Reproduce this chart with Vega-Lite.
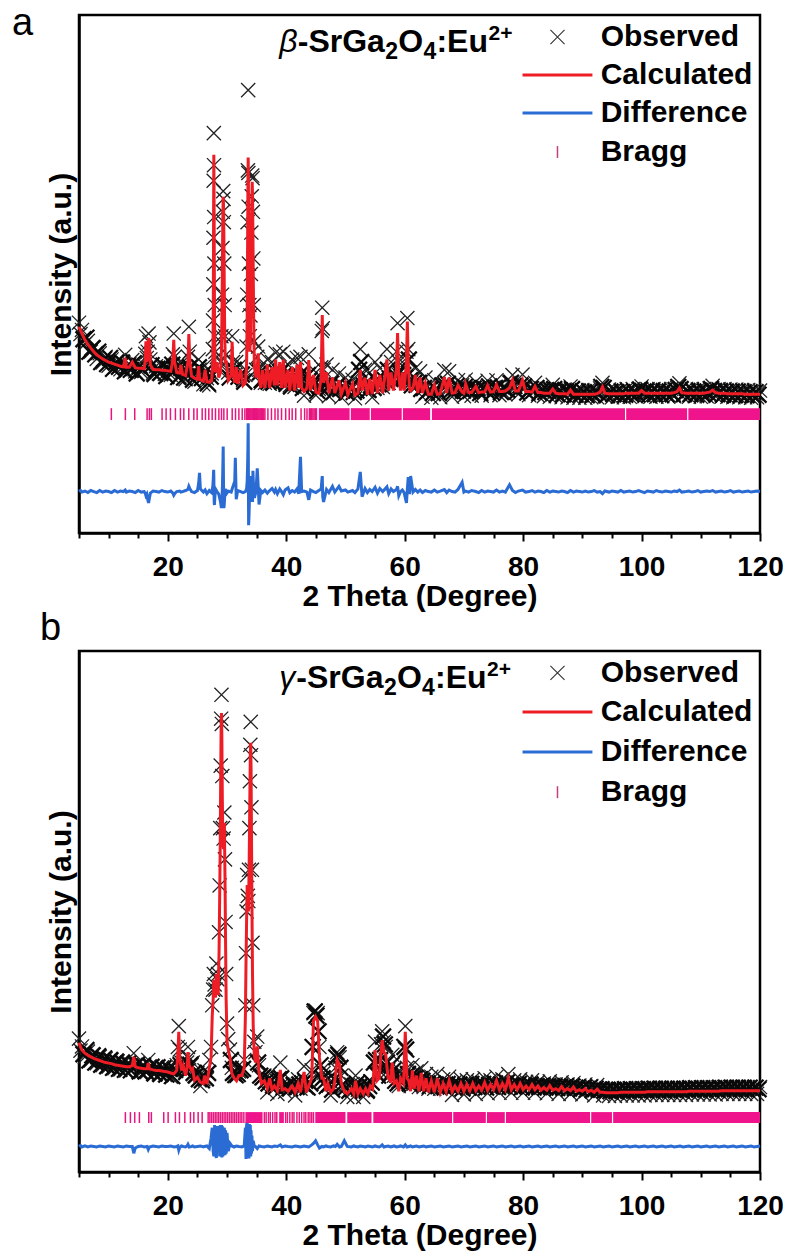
{
"$schema": "https://vega.github.io/schema/vega-lite/v6.json",
"padding": {"left": 10, "top": 3, "right": 5, "bottom": 0},
"background": "white",
"config": {
  "font": "Liberation Sans",
  "view": {"stroke": "black", "strokeWidth": 2.5},
  "axisX": {"values":[10,20,30,40,50,60,70,80,90,100,110,120],"labelExpr":"datum.value % 20 === 0 ? datum.label : ''","grid":false,"tickSize":{"condition":{"test":"datum.value % 20 === 0","value":8},"value":5},"tickWidth":2,"tickColor":"black","domainColor":"black","domainWidth":2.5,"labelFontSize":28,"labelFontWeight":"bold","labelColor":"black","labelPadding":12,"labelFlush":false,"labelOverlap":false,"titleFontSize":30,"titleFontWeight":"bold","titleColor":"black","titlePadding":0},
  "axisY": {"labels":false,"ticks":false,"grid":false,"domainColor":"black","domainWidth":2.5,"titleFontSize":30,"titleFontWeight":"bold","titleColor":"black","titlePadding":3}
},
"datasets": {
"a": [
{"t":5,"o":40.6,"c":39.8,"d":8.0},{"t":5.25,"o":38.4,"c":39.1,"d":8.2},{"t":5.5,"o":39.2,"c":38.5,"d":7.9},{"t":6,"o":36.5,"c":37.3,"d":8.1},{"t":6.5,"o":37.1,"c":36.4,"d":7.8},{"t":7,"o":35.0,"c":35.7,"d":8.2},{"t":7.5,"o":35.8,"c":35.0,"d":8.0},{"t":8,"o":33.6,"c":34.4,"d":7.8},{"t":8.5,"o":34.7,"c":34.0,"d":8.2},{"t":9,"o":32.9,"c":33.6,"d":7.9},{"t":9.5,"o":34.0,"c":33.3,"d":8.1},{"t":10,"o":32.3,"c":33.0,"d":8.0},{"t":10.5,"o":33.5,"c":32.8,"d":7.8},{"t":11,"o":31.9,"c":32.6,"d":8.2},{"t":11.5,"o":33.1,"c":32.4,"d":7.9},{"t":12,"o":31.6,"c":32.2,"d":8.1},{"t":12.5,"o":32.8,"c":32.1,"d":8.0},{"t":12.8,"o":34.4,"c":33.8,"d":8.3},{"t":13,"o":31.3,"c":32.0,"d":7.9},{"t":13.5,"o":32.6,"c":32.0,"d":8.1},{"t":14,"o":33.4,"c":33.0,"d":8.0},{"t":14.5,"o":31.2,"c":31.9,"d":7.8},{"t":15,"o":32.5,"c":31.8,"d":8.2},{"t":15.5,"o":31.1,"c":31.8,"d":7.9},{"t":16,"o":32.4,"c":31.7,"d":8.0},{"t":16.2,"o":34.6,"c":33.5,"d":7.6},{"t":16.3,"o":38.0,"c":37.0,"d":7.2},{"t":16.45,"o":33.8,"c":33.0,"d":7.5},{"t":16.6,"o":35.0,"c":34.0,"d":6.5},{"t":16.75,"o":38.5,"c":37.6,"d":5.8},{"t":16.9,"o":36.8,"c":37.0,"d":6.8},{"t":17.05,"o":33.5,"c":32.5,"d":7.7},{"t":17.5,"o":30.9,"c":31.6,"d":8.1},{"t":18,"o":32.2,"c":31.5,"d":8.0},{"t":18.5,"o":30.8,"c":31.5,"d":7.9},{"t":19,"o":32.1,"c":31.4,"d":8.2},{"t":19.5,"o":30.7,"c":31.4,"d":8.0},{"t":20,"o":32.0,"c":31.3,"d":7.9},{"t":20.5,"o":30.5,"c":31.2,"d":8.1},{"t":20.85,"o":34.5,"c":33.5,"d":7.7},{"t":21.0,"o":38.5,"c":37.3,"d":7.3},{"t":21.15,"o":34.0,"c":33.0,"d":7.6},{"t":21.5,"o":31.8,"c":31.0,"d":8.0},{"t":22,"o":30.2,"c":30.9,"d":8.1},{"t":22.2,"o":33.2,"c":32.5,"d":7.9},{"t":22.5,"o":31.3,"c":30.6,"d":8.0},{"t":23,"o":29.7,"c":30.4,"d":8.2},{"t":23.4,"o":34.0,"c":33.0,"d":8.4},{"t":23.55,"o":39.8,"c":38.4,"d":9.0},{"t":23.7,"o":35.0,"c":33.5,"d":8.6},{"t":24,"o":31.0,"c":30.3,"d":8.0},{"t":24.5,"o":29.2,"c":29.9,"d":7.8},{"t":25,"o":30.4,"c":29.7,"d":8.2},{"t":25.2,"o":33.5,"c":32.2,"d":9.5},{"t":25.35,"o":31.5,"c":30.0,"d":11.6},{"t":25.5,"o":30.5,"c":29.6,"d":8.5},{"t":26,"o":28.7,"c":29.3,"d":7.9},{"t":26.3,"o":32.3,"c":31.5,"d":8.3},{"t":26.6,"o":29.9,"c":29.2,"d":7.6},{"t":27,"o":28.5,"c":29.1,"d":8.2},
{"t":27.4,"o":30.8,"c":29.5,"d":7.8},{"t":27.6,"o":35.5,"c":33.0,"d":9.0},{"t":27.64,"o":41.0,"c":38.0,"d":9.8},{"t":27.68,"o":48.0,"c":45.0,"d":10.5},{"t":27.71,"o":57.0,"c":54.0,"d":11.5},{"t":27.74,"o":68.0,"c":65.0,"d":12.2},{"t":27.77,"o":77.2,"c":73.0,"d":11.0},{"t":27.8,"o":71.0,"c":67.0,"d":8.0},{"t":27.83,"o":61.0,"c":58.0,"d":6.0},{"t":27.87,"o":52.0,"c":46.0,"d":5.4},{"t":27.92,"o":44.0,"c":37.0,"d":6.5},{"t":27.98,"o":38.0,"c":32.0,"d":7.5},{"t":28.05,"o":35.0,"c":31.0,"d":8.5},
{"t":28.3,"o":34.0,"c":33.0,"d":8.0},{"t":28.6,"o":31.5,"c":30.0,"d":7.5},{"t":28.9,"o":33.0,"c":31.0,"d":6.0},{"t":29.05,"o":38.0,"c":35.0,"d":4.8},{"t":29.15,"o":46.0,"c":43.0,"d":6.5},{"t":29.22,"o":55.0,"c":52.0,"d":9.0},{"t":29.28,"o":62.0,"c":60.0,"d":12.0},{"t":29.35,"o":66.0,"c":64.9,"d":16.7},{"t":29.4,"o":64.5,"c":63.5,"d":10.0},{"t":29.46,"o":60.0,"c":58.0,"d":4.8},{"t":29.53,"o":52.0,"c":48.0,"d":5.5},{"t":29.6,"o":44.0,"c":39.0,"d":7.0},{"t":29.7,"o":38.0,"c":33.0,"d":8.5},{"t":29.9,"o":34.5,"c":33.0,"d":7.6},
{"t":30.2,"o":31.0,"c":29.5,"d":8.1},{"t":30.7,"o":32.0,"c":30.5,"d":7.9},{"t":30.86,"o":38.0,"c":36.9,"d":8.5},{"t":31.0,"o":33.0,"c":31.0,"d":9.0},{"t":31.3,"o":30.5,"c":29.0,"d":10.0},{"t":31.4,"o":31.5,"c":30.0,"d":14.5},{"t":31.55,"o":33.0,"c":32.0,"d":6.5},{"t":31.8,"o":30.0,"c":28.8,"d":8.2},{"t":32.3,"o":32.5,"c":31.5,"d":8.0},{"t":32.7,"o":29.5,"c":28.5,"d":7.8},
{"t":33.1,"o":30.5,"c":29.0,"d":8.0},{"t":33.3,"o":36.0,"c":32.5,"d":8.5},{"t":33.4,"o":46.0,"c":42.0,"d":10.0},{"t":33.47,"o":60.0,"c":55.0,"d":13.0},{"t":33.52,"o":70.0,"c":66.0,"d":16.0},{"t":33.57,"o":85.5,"c":72.5,"d":21.2},{"t":33.6,"o":69.5,"c":69.0,"d":14.0},{"t":33.64,"o":63.0,"c":60.0,"d":1.5},{"t":33.7,"o":52.0,"c":48.0,"d":3.0},{"t":33.77,"o":44.0,"c":40.0,"d":6.0},{"t":33.85,"o":38.0,"c":35.0,"d":10.0},{"t":33.95,"o":42.0,"c":38.0,"d":6.0},{"t":34.03,"o":50.0,"c":48.0,"d":9.0},{"t":34.1,"o":58.0,"c":56.0,"d":11.0},{"t":34.17,"o":65.0,"c":63.0,"d":9.0},{"t":34.25,"o":69.0,"c":67.8,"d":7.0},{"t":34.31,"o":68.5,"c":65.0,"d":6.0},{"t":34.37,"o":62.0,"c":58.0,"d":12.0},{"t":34.44,"o":53.0,"c":48.0,"d":10.0},{"t":34.52,"o":44.0,"c":39.0,"d":8.0},{"t":34.62,"o":37.0,"c":32.0,"d":6.8},{"t":34.9,"o":31.5,"c":30.0,"d":8.0},
{"t":35.1,"o":34.0,"c":32.0,"d":12.5},{"t":35.26,"o":36.0,"c":34.7,"d":9.0},{"t":35.4,"o":31.5,"c":30.0,"d":5.5},{"t":35.7,"o":29.0,"c":28.0,"d":8.2},{"t":36.0,"o":32.5,"c":31.5,"d":7.8},{"t":36.4,"o":29.0,"c":28.0,"d":8.3},{"t":36.8,"o":33.5,"c":32.5,"d":7.7},{"t":37.2,"o":28.8,"c":28.0,"d":8.2},{"t":37.6,"o":33.0,"c":32.0,"d":8.6},{"t":38.0,"o":29.5,"c":28.5,"d":7.9},{"t":38.2,"o":34.8,"c":33.5,"d":8.4},{"t":38.5,"o":29.5,"c":28.5,"d":7.6},{"t":38.9,"o":34.5,"c":33.0,"d":8.5},{"t":39.2,"o":29.0,"c":28.0,"d":8.0},{"t":39.5,"o":35.0,"c":33.5,"d":7.4},{"t":39.8,"o":29.0,"c":28.0,"d":8.3},{"t":40.3,"o":32.5,"c":31.5,"d":8.7},{"t":40.6,"o":28.5,"c":27.5,"d":7.8},{"t":41.0,"o":33.5,"c":32.0,"d":8.2},{"t":41.4,"o":28.2,"c":27.5,"d":7.9},{"t":41.8,"o":33.8,"c":32.5,"d":8.5},{"t":42.1,"o":29.0,"c":28.0,"d":7.6},{"t":42.4,"o":34.0,"c":33.0,"d":14.7},{"t":42.6,"o":29.5,"c":28.0,"d":8.0},{"t":43.0,"o":26.5,"c":27.3,"d":8.1},{"t":43.5,"o":29.0,"c":28.0,"d":7.9},{"t":43.8,"o":34.5,"c":33.4,"d":6.4},{"t":44.1,"o":28.5,"c":27.5,"d":8.3},{"t":44.6,"o":31.5,"c":30.5,"d":8.0},{"t":45.0,"o":26.6,"c":27.2,"d":7.8},{"t":45.5,"o":27.8,"c":27.0,"d":8.2},{"t":45.9,"o":32.0,"c":30.0,"d":8.5},{"t":46.0,"o":39.0,"c":37.0,"d":10.0},{"t":46.08,"o":43.5,"c":42.1,"d":11.0},{"t":46.16,"o":39.5,"c":37.0,"d":7.0},{"t":46.3,"o":31.5,"c":29.0,"d":6.0},{"t":46.8,"o":32.5,"c":31.0,"d":8.4},{"t":47.2,"o":26.4,"c":27.0,"d":7.8},{"t":47.8,"o":31.5,"c":30.0,"d":9.0},{"t":48.2,"o":27.8,"c":27.0,"d":7.9},{"t":48.9,"o":30.8,"c":29.5,"d":9.0},{"t":49.3,"o":26.2,"c":26.8,"d":8.1},{"t":50.0,"o":30.0,"c":29.0,"d":8.3},{"t":50.4,"o":27.5,"c":26.7,"d":7.9},{"t":51.2,"o":29.6,"c":28.8,"d":8.2},{"t":51.6,"o":26.0,"c":26.6,"d":7.8},{"t":52.1,"o":29.0,"c":27.0,"d":8.5},{"t":52.5,"o":35.5,"c":31.5,"d":11.8},{"t":52.8,"o":30.5,"c":27.5,"d":7.0},{"t":53.3,"o":31.5,"c":30.0,"d":8.6},{"t":53.7,"o":27.5,"c":26.7,"d":7.8},{"t":54.1,"o":31.0,"c":29.8,"d":8.4},{"t":54.5,"o":26.2,"c":26.8,"d":8.0},{"t":55.0,"o":33.0,"c":31.5,"d":8.8},{"t":55.4,"o":28.0,"c":27.0,"d":7.7},{"t":55.8,"o":31.8,"c":30.5,"d":8.6},{"t":56.3,"o":28.2,"c":27.0,"d":8.0},{"t":57.0,"o":35.5,"c":33.5,"d":8.9},{"t":57.3,"o":29.0,"c":27.5,"d":7.6},{"t":57.7,"o":33.0,"c":31.0,"d":8.5},{"t":58.1,"o":29.5,"c":27.5,"d":8.0},{"t":58.6,"o":35.0,"c":31.5,"d":8.4},{"t":58.8,"o":40.5,"c":38.6,"d":9.0},{"t":59.0,"o":33.0,"c":30.0,"d":7.2},{"t":59.3,"o":30.0,"c":27.5,"d":8.0},{"t":59.6,"o":33.0,"c":31.0,"d":8.3},{"t":59.9,"o":29.5,"c":27.5,"d":7.8},{"t":60.3,"o":35.0,"c":33.0,"d":5.8},{"t":60.45,"o":41.5,"c":40.8,"d":8.5},{"t":60.6,"o":35.5,"c":33.0,"d":10.8},{"t":60.8,"o":31.0,"c":28.0,"d":7.5},{"t":61.0,"o":29.0,"c":27.5,"d":11.0},{"t":61.4,"o":29.5,"c":28.0,"d":7.9},{"t":61.8,"o":31.8,"c":30.5,"d":8.4},{"t":62.2,"o":28.5,"c":27.0,"d":7.9},{"t":62.6,"o":31.2,"c":30.0,"d":8.3},{"t":63.0,"o":26.3,"c":27.0,"d":7.8},{"t":63.5,"o":30.0,"c":29.0,"d":8.2},{"t":64.0,"o":27.6,"c":26.8,"d":8.0},{"t":64.5,"o":26.1,"c":26.8,"d":7.9},{"t":65.0,"o":29.5,"c":28.6,"d":8.3},{"t":65.5,"o":27.6,"c":26.8,"d":7.9},{"t":66.0,"o":26.2,"c":26.9,"d":8.1},{"t":66.7,"o":31.5,"c":30.1,"d":8.4},{"t":67.1,"o":27.8,"c":27.0,"d":7.8},{"t":67.5,"o":31.2,"c":30.0,"d":8.3},{"t":68.0,"o":26.3,"c":27.0,"d":8.0},{"t":68.5,"o":27.9,"c":27.1,"d":7.9},{"t":69.0,"o":29.5,"c":28.5,"d":8.4},{"t":69.7,"o":28.5,"c":27.2,"d":9.8},{"t":70.0,"o":26.4,"c":27.0,"d":7.9},{"t":70.3,"o":29.6,"c":28.8,"d":8.1},{"t":70.8,"o":27.9,"c":27.1,"d":7.9},{"t":71.3,"o":26.5,"c":27.1,"d":8.2},{"t":72.0,"o":29.2,"c":28.3,"d":8.0},{"t":72.5,"o":27.9,"c":27.1,"d":7.8},{"t":73.0,"o":26.5,"c":27.2,"d":8.2},{"t":73.5,"o":28.0,"c":27.2,"d":7.9},{"t":74.0,"o":29.4,"c":28.5,"d":8.1},{"t":74.5,"o":26.6,"c":27.2,"d":8.0},{"t":75.0,"o":28.1,"c":27.3,"d":7.9},{"t":75.5,"o":29.5,"c":28.6,"d":8.3},{"t":76.0,"o":26.6,"c":27.3,"d":7.9},{"t":76.5,"o":28.1,"c":27.3,"d":8.1},{"t":77.0,"o":26.8,"c":27.4,"d":7.9},{"t":77.7,"o":29.0,"c":28.0,"d":9.3},{"t":78.2,"o":30.5,"c":29.5,"d":8.2},{"t":78.7,"o":28.2,"c":27.4,"d":7.8},{"t":79.2,"o":26.8,"c":27.4,"d":8.1},{"t":79.9,"o":30.6,"c":29.5,"d":8.3},{"t":80.4,"o":28.1,"c":27.3,"d":7.9},{"t":81.0,"o":26.6,"c":27.3,"d":8.0},{"t":81.5,"o":28.0,"c":27.2,"d":8.2},{"t":82.0,"o":29.0,"c":28.3,"d":7.9},{"t":82.5,"o":26.5,"c":27.1,"d":8.1},{"t":83.0,"o":27.9,"c":27.1,"d":8.0},{"t":83.5,"o":26.4,"c":27.0,"d":7.8},{"t":84.0,"o":27.8,"c":27.0,"d":8.2},{"t":84.5,"o":26.3,"c":27.0,"d":7.9},{"t":85.0,"o":28.6,"c":27.8,"d":8.1},{"t":85.5,"o":26.4,"c":27.0,"d":8.0},{"t":86.0,"o":27.7,"c":26.9,"d":7.9},{"t":86.5,"o":26.2,"c":26.9,"d":8.1},{"t":87.0,"o":27.7,"c":26.9,"d":8.0},{"t":87.5,"o":26.2,"c":26.8,"d":7.8},{"t":88.0,"o":28.3,"c":27.6,"d":8.2},{"t":88.5,"o":26.1,"c":26.8,"d":7.9},{"t":89.0,"o":27.6,"c":26.8,"d":8.1},{"t":89.5,"o":26.1,"c":26.8,"d":8.0},{"t":90.0,"o":27.6,"c":26.8,"d":7.9},{"t":90.5,"o":26.1,"c":26.8,"d":8.1},{"t":91.0,"o":27.6,"c":26.8,"d":7.9},{"t":91.5,"o":26.2,"c":26.8,"d":8.0},{"t":92.0,"o":27.5,"c":26.8,"d":8.2},{"t":92.5,"o":26.2,"c":26.9,"d":7.9},{"t":93.0,"o":27.9,"c":27.2,"d":8.0},{"t":93.4,"o":29.0,"c":28.2,"d":7.6},{"t":93.8,"o":26.4,"c":27.0,"d":8.1},{"t":94.5,"o":27.7,"c":26.9,"d":7.9},{"t":95.0,"o":26.2,"c":26.9,"d":8.1},{"t":95.5,"o":27.7,"c":26.9,"d":8.0},{"t":96.0,"o":26.3,"c":26.9,"d":7.9},{"t":96.5,"o":27.6,"c":26.9,"d":8.2},{"t":97.0,"o":26.2,"c":26.9,"d":7.9},{"t":97.5,"o":27.8,"c":27.0,"d":8.0},{"t":98.0,"o":26.3,"c":27.0,"d":8.1},{"t":98.5,"o":27.8,"c":27.0,"d":7.9},{"t":99.0,"o":26.4,"c":27.0,"d":8.0},{"t":99.5,"o":27.8,"c":27.0,"d":8.2},{"t":100.0,"o":28.3,"c":27.5,"d":8.0},{"t":100.5,"o":26.4,"c":27.0,"d":7.8},{"t":101.0,"o":27.8,"c":27.0,"d":8.1},{"t":101.5,"o":26.3,"c":27.0,"d":8.0},{"t":102.0,"o":27.8,"c":27.0,"d":7.9},{"t":102.5,"o":26.3,"c":27.0,"d":8.2},{"t":103.0,"o":27.8,"c":27.0,"d":8.0},{"t":103.5,"o":26.4,"c":27.0,"d":7.9},{"t":104.0,"o":27.7,"c":27.0,"d":8.1},{"t":104.5,"o":26.3,"c":27.0,"d":8.0},{"t":105.0,"o":27.8,"c":27.0,"d":7.9},{"t":105.5,"o":26.4,"c":27.1,"d":8.1},{"t":106.0,"o":28.0,"c":27.3,"d":8.0},{"t":106.4,"o":28.9,"c":28.0,"d":8.3},{"t":106.8,"o":26.5,"c":27.1,"d":7.9},{"t":107.5,"o":27.8,"c":27.0,"d":8.0},{"t":108.0,"o":26.3,"c":27.0,"d":8.1},{"t":108.5,"o":27.8,"c":27.0,"d":7.9},{"t":109.0,"o":26.4,"c":27.0,"d":8.0},{"t":109.5,"o":27.7,"c":27.0,"d":8.2},{"t":110.0,"o":26.3,"c":27.0,"d":7.9},{"t":110.5,"o":27.8,"c":27.0,"d":8.0},{"t":111.0,"o":26.4,"c":27.1,"d":8.1},{"t":111.5,"o":27.9,"c":27.2,"d":8.0},{"t":112.0,"o":28.4,"c":27.6,"d":8.2},{"t":112.5,"o":26.4,"c":27.1,"d":7.9},{"t":113.0,"o":27.8,"c":27.0,"d":8.0},{"t":113.5,"o":26.3,"c":27.0,"d":8.1},{"t":114.0,"o":27.8,"c":27.0,"d":7.9},{"t":114.5,"o":26.3,"c":26.9,"d":8.0},{"t":115.0,"o":27.7,"c":26.9,"d":8.2},{"t":115.5,"o":26.2,"c":26.9,"d":7.9},{"t":116.0,"o":27.7,"c":26.9,"d":8.0},{"t":116.5,"o":26.2,"c":26.9,"d":8.1},{"t":117.0,"o":27.6,"c":26.9,"d":7.9},{"t":117.5,"o":26.2,"c":26.8,"d":8.0},{"t":118.0,"o":27.6,"c":26.8,"d":8.1},{"t":118.5,"o":26.1,"c":26.8,"d":7.9},{"t":119.0,"o":27.6,"c":26.8,"d":8.0},{"t":119.5,"o":26.2,"c":26.8,"d":8.1},{"t":120.0,"o":27.5,"c":26.8,"d":8.0}
],
"ax": [
{"t":5.75,"o":37.4},{"t":6.25,"o":37.7},{"t":6.75,"o":35.0},{"t":7.25,"o":35.7},{"t":7.75,"o":34.5},{"t":8.25,"o":35.0},{"t":8.75,"o":33.0},{"t":9.25,"o":33.6},{"t":9.75,"o":32.6},{"t":10.25,"o":33.8},{"t":10.75,"o":31.7},{"t":11.25,"o":32.9},{"t":11.75,"o":32.1},{"t":12.25,"o":32.9},{"t":12.75,"o":31.2},{"t":13.25,"o":32.2},{"t":13.75,"o":31.5},{"t":14.25,"o":32.8},{"t":14.75,"o":30.8},{"t":15.25,"o":32.2},{"t":15.75,"o":31.5},{"t":17.25,"o":32.4},{"t":17.75,"o":30.7},{"t":18.25,"o":31.7},{"t":18.75,"o":30.9},{"t":19.25,"o":32.3},{"t":19.75,"o":30.3},{"t":20.25,"o":31.6},{"t":20.75,"o":32.5},{"t":21.25,"o":31.5},{"t":21.75,"o":30.1},{"t":22.25,"o":31.9},{"t":22.75,"o":30.0},{"t":23.25,"o":31.2},{"t":23.75,"o":32.0},{"t":24.25,"o":29.6},{"t":24.75,"o":30.9},{"t":25.25,"o":32.0},{"t":25.75,"o":29.9},{"t":26.25,"o":31.0},{"t":26.75,"o":28.9},{"t":27.25,"o":30.2},{"t":30.45,"o":30.0},{"t":31.15,"o":31.5},{"t":31.95,"o":30.2},{"t":32.5,"o":30.6},{"t":32.9,"o":29.2},{"t":35.55,"o":31.0},{"t":35.85,"o":29.5},{"t":36.2,"o":29.8},{"t":36.6,"o":30.5},{"t":37.0,"o":29.2},{"t":37.4,"o":30.0},{"t":37.8,"o":29.0},{"t":38.35,"o":31.0},{"t":38.7,"o":30.2},{"t":39.05,"o":31.0},{"t":39.35,"o":30.0},{"t":39.65,"o":30.5},{"t":40.05,"o":28.8},{"t":40.45,"o":29.5},{"t":40.8,"o":28.3},{"t":41.2,"o":29.8},{"t":41.6,"o":29.0},{"t":41.95,"o":30.0},{"t":42.25,"o":30.5},{"t":42.8,"o":28.0},{"t":43.25,"o":28.4},{"t":43.65,"o":30.5},{"t":43.95,"o":29.5},{"t":44.35,"o":29.0},{"t":44.8,"o":28.8},{"t":45.25,"o":27.4},{"t":45.7,"o":28.3},{"t":46.55,"o":28.5},{"t":47.0,"o":28.0},{"t":47.5,"o":28.8},{"t":48.0,"o":27.2},{"t":48.55,"o":28.5},{"t":49.1,"o":27.8},{"t":49.65,"o":28.2},{"t":50.2,"o":27.1},{"t":50.8,"o":28.0},{"t":51.4,"o":27.2},{"t":51.85,"o":27.5},{"t":52.3,"o":31.5},{"t":52.65,"o":33.0},{"t":53.05,"o":28.5},{"t":53.5,"o":28.8},{"t":53.9,"o":27.6},{"t":54.3,"o":28.5},{"t":54.75,"o":28.0},{"t":55.2,"o":29.5},{"t":55.6,"o":28.7},{"t":56.05,"o":29.0},{"t":56.65,"o":29.5},{"t":57.15,"o":31.5},{"t":57.5,"o":29.8},{"t":57.9,"o":30.0},{"t":58.35,"o":30.5},{"t":59.15,"o":31.0},{"t":59.45,"o":30.2},{"t":59.75,"o":30.5},{"t":60.1,"o":30.0},{"t":60.7,"o":33.5},{"t":60.9,"o":29.5},{"t":61.2,"o":28.5},{"t":61.6,"o":29.0},{"t":62.0,"o":28.6},{"t":62.4,"o":29.0},{"t":62.8,"o":27.8},{"t":63.25,"o":28.0},{"t":63.75,"o":27.2},{"t":64.25,"o":27.7},{"t":64.75,"o":27.0},{"t":65.25,"o":27.8},{"t":65.75,"o":27.0},{"t":66.35,"o":28.5},{"t":66.9,"o":28.5},{"t":67.3,"o":28.8},{"t":67.75,"o":27.4},{"t":68.25,"o":27.2},{"t":68.75,"o":28.4},{"t":69.35,"o":28.0},{"t":69.85,"o":27.5},{"t":70.15,"o":28.2},{"t":70.55,"o":27.8},{"t":71.05,"o":27.4},{"t":71.65,"o":27.9},{"t":72.25,"o":27.8},{"t":72.75,"o":27.0},{"t":73.25,"o":28.0},{"t":73.75,"o":27.6},{"t":74.25,"o":28.3},{"t":74.75,"o":27.1},{"t":75.25,"o":28.0},{"t":75.75,"o":28.1},{"t":76.25,"o":27.2},{"t":76.75,"o":28.0},{"t":77.35,"o":27.6},{"t":77.95,"o":29.0},{"t":78.45,"o":28.4},{"t":78.95,"o":27.3},{"t":79.55,"o":28.5},{"t":80.15,"o":28.3},{"t":80.7,"o":27.1},{"t":81.25,"o":27.8},{"t":81.75,"o":27.5},{"t":82.25,"o":28.0},{"t":82.75,"o":27.0},{"t":83.25,"o":27.6},{"t":83.75,"o":27.2},{"t":84.25,"o":27.4},{"t":84.75,"o":27.6},{"t":85.25,"o":27.8},{"t":85.75,"o":26.8},{"t":86.25,"o":27.5},{"t":86.75,"o":26.8},{"t":87.25,"o":27.4},{"t":87.75,"o":27.3},{"t":88.25,"o":27.8},{"t":88.75,"o":26.7},{"t":89.25,"o":27.3},{"t":89.75,"o":26.8},{"t":90.25,"o":27.2},{"t":90.75,"o":26.6},{"t":91.25,"o":27.3},{"t":91.75,"o":26.7},{"t":92.25,"o":27.2},{"t":92.75,"o":27.0},{"t":93.2,"o":28.2},{"t":93.6,"o":28.0},{"t":94.15,"o":26.6},{"t":94.75,"o":27.3},{"t":95.25,"o":26.8},{"t":95.75,"o":27.2},{"t":96.25,"o":26.6},{"t":96.75,"o":27.2},{"t":97.25,"o":26.7},{"t":97.75,"o":27.4},{"t":98.25,"o":26.8},{"t":98.75,"o":27.3},{"t":99.25,"o":26.8},{"t":99.75,"o":27.7},{"t":100.25,"o":27.2},{"t":100.75,"o":27.3},{"t":101.25,"o":26.7},{"t":101.75,"o":27.4},{"t":102.25,"o":26.8},{"t":102.75,"o":27.3},{"t":103.25,"o":26.7},{"t":103.75,"o":27.4},{"t":104.25,"o":26.8},{"t":104.75,"o":27.3},{"t":105.25,"o":26.8},{"t":105.75,"o":27.6},{"t":106.2,"o":28.2},{"t":106.6,"o":27.8},{"t":107.15,"o":26.8},{"t":107.75,"o":27.4},{"t":108.25,"o":26.8},{"t":108.75,"o":27.3},{"t":109.25,"o":26.7},{"t":109.75,"o":27.4},{"t":110.25,"o":26.8},{"t":110.75,"o":27.3},{"t":111.25,"o":27.0},{"t":111.75,"o":27.8},{"t":112.25,"o":27.4},{"t":112.75,"o":26.8},{"t":113.25,"o":27.4},{"t":113.75,"o":26.7},{"t":114.25,"o":27.3},{"t":114.75,"o":26.8},{"t":115.25,"o":27.3},{"t":115.75,"o":26.6},{"t":116.25,"o":27.3},{"t":116.75,"o":26.7},{"t":117.25,"o":27.2},{"t":117.75,"o":26.6},{"t":118.25,"o":27.2},{"t":118.75,"o":26.6},{"t":119.25,"o":27.2},{"t":119.75,"o":26.7}
],
"b": [
{"t":5,"o":25.6,"c":24.8,"d":4.9},{"t":5.25,"o":23.3,"c":24.0,"d":5.1},{"t":5.5,"o":24.1,"c":23.4,"d":4.8},{"t":6,"o":22.1,"c":22.8,"d":5.0},{"t":6.5,"o":23.1,"c":22.4,"d":4.8},{"t":7,"o":21.4,"c":22.1,"d":5.0},{"t":7.5,"o":22.5,"c":21.8,"d":4.9},{"t":8,"o":20.9,"c":21.6,"d":4.8},{"t":8.5,"o":22.1,"c":21.4,"d":5.0},{"t":9,"o":20.5,"c":21.2,"d":4.9},{"t":9.5,"o":21.7,"c":21.0,"d":4.8},{"t":10,"o":20.2,"c":20.9,"d":5.0},{"t":10.5,"o":21.5,"c":20.8,"d":4.9},{"t":11,"o":19.9,"c":20.6,"d":4.8},{"t":11.5,"o":21.2,"c":20.5,"d":5.0},{"t":12,"o":19.7,"c":20.4,"d":4.9},{"t":12.5,"o":21.0,"c":20.3,"d":4.8},{"t":13,"o":19.5,"c":20.2,"d":5.0},{"t":13.5,"o":20.9,"c":20.2,"d":4.9},{"t":14,"o":20.0,"c":20.4,"d":4.9},{"t":14.25,"o":22.8,"c":22.1,"d":3.6},{"t":14.5,"o":20.6,"c":20.2,"d":4.6},{"t":15,"o":20.7,"c":20.0,"d":4.9},{"t":15.5,"o":19.2,"c":19.9,"d":5.0},{"t":16,"o":20.5,"c":19.8,"d":4.8},{"t":16.5,"o":19.2,"c":19.8,"d":4.9},{"t":16.7,"o":21.5,"c":20.9,"d":4.3},{"t":16.9,"o":20.3,"c":19.8,"d":4.8},{"t":17.5,"o":18.9,"c":19.6,"d":5.0},{"t":18,"o":20.2,"c":19.5,"d":4.9},{"t":18.5,"o":18.8,"c":19.5,"d":4.8},{"t":19,"o":20.1,"c":19.4,"d":5.0},{"t":19.5,"o":18.6,"c":19.3,"d":4.9},{"t":20,"o":19.9,"c":19.2,"d":4.9},{"t":20.5,"o":18.3,"c":19.0,"d":5.0},{"t":21,"o":19.5,"c":18.8,"d":4.8},{"t":21.5,"o":20.5,"c":19.5,"d":4.9},{"t":21.7,"o":24.0,"c":23.0,"d":5.0},{"t":21.85,"o":28.0,"c":26.9,"d":4.2},{"t":22.0,"o":23.5,"c":22.0,"d":4.7},{"t":22.3,"o":21.0,"c":19.5,"d":5.0},{"t":22.6,"o":21.5,"c":20.5,"d":4.9},{"t":23.0,"o":19.5,"c":18.5,"d":4.8},{"t":23.25,"o":21.0,"c":20.0,"d":5.0},{"t":23.4,"o":24.0,"c":23.0,"d":5.3},{"t":23.6,"o":22.0,"c":20.5,"d":4.8},{"t":24.0,"o":20.5,"c":19.5,"d":4.9},{"t":24.2,"o":21.0,"c":19.8,"d":5.0},{"t":24.5,"o":18.5,"c":17.6,"d":4.8},{"t":25.0,"o":19.0,"c":18.2,"d":4.9},{"t":25.5,"o":16.5,"c":17.2,"d":5.0},{"t":26.0,"o":17.8,"c":17.0,"d":4.8},{"t":26.2,"o":19.5,"c":18.5,"d":4.9},{"t":26.6,"o":17.8,"c":16.9,"d":5.0},
{"t":27.0,"o":21.5,"c":20.0,"d":4.5},{"t":27.3,"o":24.0,"c":22.0,"d":6.5},{"t":27.5,"o":32.0,"c":30.0,"d":8.5},{"t":27.65,"o":35.0,"c":33.0,"d":4.0},{"t":27.77,"o":38.0,"c":36.9,"d":3.0},{"t":27.9,"o":36.0,"c":34.0,"d":9.0},{"t":28.05,"o":35.0,"c":33.5,"d":3.5},{"t":28.2,"o":40.0,"c":38.0,"d":2.7},{"t":28.35,"o":37.0,"c":35.0,"d":8.8},{"t":28.5,"o":38.0,"c":34.0,"d":4.0},{"t":28.65,"o":46.0,"c":42.0,"d":8.5},{"t":28.75,"o":55.0,"c":52.0,"d":3.0},{"t":28.85,"o":66.0,"c":63.0,"d":9.0},{"t":28.93,"o":78.0,"c":76.0,"d":3.5},{"t":29.0,"o":87.0,"c":85.0,"d":8.5},{"t":29.06,"o":91.6,"c":88.1,"d":9.0},{"t":29.12,"o":86.0,"c":84.0,"d":2.8},{"t":29.2,"o":76.0,"c":72.0,"d":8.8},{"t":29.3,"o":66.0,"c":63.0,"d":3.0},{"t":29.42,"o":64.0,"c":62.0,"d":8.0},{"t":29.55,"o":69.0,"c":67.0,"d":8.5},{"t":29.65,"o":60.0,"c":57.0,"d":3.2},{"t":29.75,"o":48.0,"c":44.0,"d":8.0},{"t":29.85,"o":38.0,"c":33.0,"d":3.5},{"t":30.0,"o":28.5,"c":25.0,"d":7.5},{"t":30.2,"o":25.5,"c":23.5,"d":4.0},{"t":30.5,"o":23.5,"c":22.0,"d":5.5},
{"t":30.8,"o":20.0,"c":19.0,"d":5.0},{"t":31.2,"o":19.0,"c":18.0,"d":4.8},{"t":31.6,"o":18.4,"c":17.5,"d":5.0},{"t":32.0,"o":19.3,"c":18.5,"d":4.9},{"t":32.5,"o":19.5,"c":18.5,"d":4.8},{"t":32.9,"o":21.5,"c":20.0,"d":5.0},
{"t":33.1,"o":32.0,"c":30.0,"d":8.5},{"t":33.2,"o":42.0,"c":40.0,"d":2.5},{"t":33.3,"o":50.0,"c":48.0,"d":9.0},{"t":33.4,"o":57.0,"c":55.1,"d":9.6},{"t":33.5,"o":53.0,"c":51.0,"d":3.0},{"t":33.6,"o":52.0,"c":50.0,"d":8.5},{"t":33.7,"o":58.0,"c":56.0,"d":2.6},{"t":33.78,"o":66.0,"c":64.0,"d":9.2},{"t":33.86,"o":75.0,"c":73.0,"d":3.0},{"t":33.93,"o":82.0,"c":80.0,"d":9.0},{"t":34.0,"o":86.4,"c":82.4,"d":3.0},{"t":34.06,"o":80.0,"c":77.0,"d":8.0},{"t":34.12,"o":70.0,"c":66.0,"d":3.5},{"t":34.2,"o":58.0,"c":52.0,"d":7.0},{"t":34.3,"o":44.0,"c":38.0,"d":4.0},{"t":34.42,"o":32.0,"c":28.0,"d":6.0},{"t":34.6,"o":25.0,"c":22.5,"d":5.0},{"t":34.8,"o":23.0,"c":21.0,"d":4.9},{"t":35.1,"o":26.0,"c":24.1,"d":4.5},{"t":35.4,"o":20.5,"c":19.0,"d":5.0},
{"t":35.8,"o":18.0,"c":17.0,"d":4.9},{"t":36.3,"o":18.5,"c":17.5,"d":4.8},{"t":36.8,"o":15.3,"c":16.0,"d":5.0},{"t":37.2,"o":18.9,"c":18.0,"d":4.9},{"t":37.6,"o":16.5,"c":15.8,"d":4.8},{"t":38.0,"o":17.3,"c":16.5,"d":5.0},{"t":38.5,"o":15.0,"c":15.6,"d":4.9},{"t":39.0,"o":21.0,"c":19.6,"d":5.2},{"t":39.3,"o":16.8,"c":15.8,"d":4.8},{"t":39.8,"o":15.4,"c":16.0,"d":5.0},{"t":40.3,"o":16.3,"c":15.5,"d":4.9},{"t":41.0,"o":17.3,"c":16.5,"d":4.8},{"t":41.5,"o":14.7,"c":15.3,"d":5.0},{"t":42.0,"o":17.8,"c":17.0,"d":4.9},{"t":42.4,"o":16.0,"c":15.3,"d":4.8},{"t":43.0,"o":20.3,"c":19.2,"d":5.0},{"t":43.4,"o":16.2,"c":15.3,"d":4.9},{"t":43.8,"o":17.3,"c":16.5,"d":4.8},{"t":44.3,"o":19.5,"c":18.0,"d":5.2},{"t":44.6,"o":30.5,"c":29.0,"d":5.5},{"t":44.95,"o":31.0,"c":29.8,"d":6.0},{"t":45.3,"o":30.5,"c":29.0,"d":5.2},{"t":45.6,"o":24.0,"c":22.0,"d":4.6},{"t":46.0,"o":19.5,"c":18.0,"d":4.9},{"t":46.3,"o":19.0,"c":18.0,"d":4.8},{"t":46.7,"o":16.3,"c":15.5,"d":5.0},{"t":47.0,"o":17.8,"c":17.0,"d":4.9},{"t":47.5,"o":14.7,"c":15.3,"d":4.8},{"t":48.0,"o":16.8,"c":16.0,"d":5.0},{"t":48.3,"o":20.0,"c":18.5,"d":4.9},{"t":48.6,"o":23.0,"c":21.5,"d":5.3},{"t":49.0,"o":22.0,"c":20.5,"d":4.8},{"t":49.3,"o":18.5,"c":17.0,"d":4.9},{"t":49.8,"o":16.5,"c":15.5,"d":6.0},{"t":50.3,"o":14.4,"c":15.0,"d":4.9},{"t":51.0,"o":16.8,"c":16.0,"d":4.8},{"t":51.4,"o":14.4,"c":15.0,"d":5.0},{"t":51.7,"o":18.5,"c":17.5,"d":4.9},{"t":52.1,"o":15.8,"c":15.0,"d":4.8},{"t":52.5,"o":16.8,"c":16.0,"d":5.0},{"t":53.0,"o":14.4,"c":15.0,"d":4.9},{"t":53.4,"o":16.9,"c":16.0,"d":4.8},{"t":53.8,"o":15.7,"c":15.0,"d":5.0},{"t":54.2,"o":17.4,"c":16.5,"d":4.9},{"t":54.6,"o":17.0,"c":16.0,"d":4.8},{"t":55.0,"o":25.0,"c":23.4,"d":5.0},{"t":55.3,"o":19.0,"c":17.5,"d":4.9},{"t":55.7,"o":19.5,"c":18.0,"d":4.8},{"t":56.0,"o":24.5,"c":23.0,"d":5.0},{"t":56.2,"o":27.0,"c":25.3,"d":5.2},{"t":56.5,"o":25.0,"c":23.0,"d":4.8},{"t":56.8,"o":24.0,"c":22.5,"d":4.9},{"t":57.2,"o":19.5,"c":18.0,"d":5.0},{"t":57.6,"o":19.0,"c":17.5,"d":4.8},{"t":57.9,"o":22.5,"c":21.0,"d":4.9},{"t":58.2,"o":18.5,"c":17.0,"d":5.0},{"t":58.6,"o":18.5,"c":17.5,"d":4.8},{"t":59.0,"o":16.5,"c":15.5,"d":4.9},{"t":59.3,"o":19.3,"c":18.0,"d":5.0},{"t":59.8,"o":18.5,"c":17.0,"d":4.8},{"t":60.1,"o":28.0,"c":26.9,"d":5.2},{"t":60.4,"o":20.0,"c":18.0,"d":4.8},{"t":60.7,"o":19.0,"c":17.5,"d":4.9},{"t":61.0,"o":16.5,"c":15.5,"d":5.0},{"t":61.3,"o":20.5,"c":19.5,"d":4.8},{"t":61.6,"o":17.0,"c":16.0,"d":4.9},{"t":62.0,"o":19.3,"c":18.5,"d":5.0},{"t":62.4,"o":16.3,"c":15.5,"d":4.8},{"t":62.8,"o":19.9,"c":19.0,"d":4.9},{"t":63.2,"o":16.3,"c":15.5,"d":5.0},{"t":63.6,"o":18.8,"c":18.0,"d":4.8},{"t":64.0,"o":16.0,"c":15.3,"d":4.9},{"t":64.5,"o":18.3,"c":17.5,"d":5.0},{"t":65.0,"o":16.0,"c":15.3,"d":4.8},{"t":65.5,"o":18.8,"c":18.0,"d":4.9},{"t":66.0,"o":16.0,"c":15.3,"d":5.0},{"t":66.5,"o":17.8,"c":17.0,"d":4.8},{"t":67.0,"o":16.1,"c":15.4,"d":4.9},{"t":67.5,"o":18.3,"c":17.5,"d":5.0},{"t":68.0,"o":14.8,"c":15.4,"d":4.8},{"t":68.5,"o":17.3,"c":16.5,"d":4.9},{"t":69.0,"o":16.2,"c":15.5,"d":5.0},{"t":69.5,"o":17.8,"c":17.0,"d":4.8},{"t":70.0,"o":14.9,"c":15.5,"d":4.9},{"t":70.5,"o":17.6,"c":16.8,"d":5.0},{"t":71.0,"o":16.3,"c":15.6,"d":4.8},{"t":71.5,"o":17.8,"c":17.0,"d":4.9},{"t":72.0,"o":15.0,"c":15.6,"d":5.0},{"t":72.5,"o":17.3,"c":16.5,"d":4.8},{"t":73.0,"o":16.4,"c":15.7,"d":4.9},{"t":73.5,"o":18.0,"c":17.2,"d":5.0},{"t":74.0,"o":15.1,"c":15.7,"d":4.8},{"t":74.5,"o":17.6,"c":16.8,"d":4.9},{"t":75.0,"o":16.5,"c":15.8,"d":5.0},{"t":75.5,"o":18.3,"c":17.5,"d":4.8},{"t":76.0,"o":15.2,"c":15.8,"d":4.9},{"t":76.5,"o":17.8,"c":17.0,"d":5.0},{"t":77.0,"o":16.5,"c":15.8,"d":4.8},{"t":77.5,"o":18.8,"c":18.0,"d":4.9},{"t":78.0,"o":15.2,"c":15.8,"d":5.0},{"t":78.5,"o":17.6,"c":16.8,"d":4.8},{"t":79.0,"o":16.5,"c":15.8,"d":4.9},{"t":79.5,"o":17.8,"c":17.0,"d":5.0},{"t":80.0,"o":15.2,"c":15.8,"d":4.8},{"t":80.5,"o":17.3,"c":16.5,"d":4.9},{"t":81.0,"o":16.5,"c":15.8,"d":5.0},{"t":81.5,"o":17.6,"c":16.8,"d":4.8},{"t":82.0,"o":15.2,"c":15.8,"d":4.9},{"t":82.5,"o":17.3,"c":16.5,"d":5.0},{"t":83.0,"o":16.4,"c":15.7,"d":4.8},{"t":83.5,"o":17.0,"c":16.2,"d":4.9},{"t":84.0,"o":15.1,"c":15.7,"d":5.0},{"t":84.5,"o":17.4,"c":16.6,"d":4.8},{"t":85.0,"o":16.4,"c":15.7,"d":4.9},{"t":85.5,"o":16.8,"c":16.0,"d":5.0},{"t":86.0,"o":15.0,"c":15.6,"d":4.8},{"t":86.5,"o":17.2,"c":16.4,"d":4.9},{"t":87.0,"o":16.3,"c":15.6,"d":5.0},{"t":87.5,"o":16.8,"c":16.0,"d":4.8},{"t":88.0,"o":15.0,"c":15.6,"d":4.9},{"t":88.5,"o":17.1,"c":16.3,"d":5.0},{"t":89.0,"o":16.2,"c":15.5,"d":4.8},{"t":89.5,"o":16.6,"c":15.8,"d":4.9},{"t":90.0,"o":14.9,"c":15.5,"d":5.0},{"t":90.5,"o":16.8,"c":16.0,"d":4.8},{"t":91.0,"o":16.1,"c":15.4,"d":4.9},{"t":91.5,"o":16.5,"c":15.7,"d":5.0},{"t":92.0,"o":14.7,"c":15.3,"d":4.8},{"t":92.5,"o":16.7,"c":15.9,"d":4.9},{"t":93.0,"o":16.0,"c":15.3,"d":5.0},{"t":93.5,"o":14.7,"c":15.3,"d":4.8},{"t":94.0,"o":15.9,"c":15.2,"d":4.9},{"t":94.5,"o":14.6,"c":15.2,"d":5.0},{"t":95.0,"o":15.9,"c":15.2,"d":4.8},{"t":95.5,"o":14.6,"c":15.2,"d":4.9},{"t":96.0,"o":15.9,"c":15.2,"d":5.0},{"t":96.5,"o":14.7,"c":15.3,"d":4.8},{"t":97.0,"o":16.0,"c":15.3,"d":4.9},{"t":97.5,"o":14.7,"c":15.3,"d":5.0},{"t":98.0,"o":16.0,"c":15.3,"d":4.8},{"t":98.5,"o":14.7,"c":15.3,"d":4.9},{"t":99.0,"o":16.0,"c":15.3,"d":5.0},{"t":99.5,"o":14.7,"c":15.3,"d":4.8},{"t":100.0,"o":16.0,"c":15.3,"d":4.9},{"t":100.5,"o":14.7,"c":15.3,"d":5.0},{"t":101.0,"o":16.1,"c":15.4,"d":4.8},{"t":101.5,"o":14.8,"c":15.4,"d":4.9},{"t":102.0,"o":16.1,"c":15.4,"d":5.0},{"t":102.5,"o":14.8,"c":15.4,"d":4.8},{"t":103.0,"o":16.1,"c":15.4,"d":4.9},{"t":103.5,"o":14.8,"c":15.4,"d":5.0},{"t":104.0,"o":16.1,"c":15.4,"d":4.8},{"t":104.5,"o":14.8,"c":15.4,"d":4.9},{"t":105.0,"o":16.1,"c":15.4,"d":5.0},{"t":105.5,"o":14.8,"c":15.4,"d":4.8},{"t":106.0,"o":16.1,"c":15.4,"d":4.9},{"t":106.5,"o":14.8,"c":15.4,"d":5.0},{"t":107.0,"o":16.1,"c":15.4,"d":4.8},{"t":107.5,"o":14.8,"c":15.4,"d":4.9},{"t":108.0,"o":16.2,"c":15.5,"d":5.0},{"t":108.5,"o":14.9,"c":15.5,"d":4.8},{"t":109.0,"o":16.2,"c":15.5,"d":4.9},{"t":109.5,"o":14.9,"c":15.5,"d":5.0},{"t":110.0,"o":16.2,"c":15.5,"d":4.8},{"t":110.5,"o":14.9,"c":15.5,"d":4.9},{"t":111.0,"o":16.2,"c":15.5,"d":5.0},{"t":111.5,"o":14.9,"c":15.5,"d":4.8},{"t":112.0,"o":16.2,"c":15.5,"d":4.9},{"t":112.5,"o":14.9,"c":15.5,"d":5.0},{"t":113.0,"o":16.2,"c":15.5,"d":4.8},{"t":113.5,"o":15.0,"c":15.6,"d":4.9},{"t":114.0,"o":16.3,"c":15.6,"d":5.0},{"t":114.5,"o":15.0,"c":15.6,"d":4.8},{"t":115.0,"o":16.3,"c":15.6,"d":4.9},{"t":115.5,"o":15.0,"c":15.6,"d":5.0},{"t":116.0,"o":16.3,"c":15.6,"d":4.8},{"t":116.5,"o":15.0,"c":15.6,"d":4.9},{"t":117.0,"o":16.3,"c":15.6,"d":5.0},{"t":117.5,"o":15.0,"c":15.6,"d":4.8},{"t":118.0,"o":16.3,"c":15.6,"d":4.9},{"t":118.5,"o":15.0,"c":15.6,"d":5.0},{"t":119.0,"o":16.3,"c":15.6,"d":4.8},{"t":119.5,"o":15.0,"c":15.6,"d":4.9},{"t":120.0,"o":16.3,"c":15.6,"d":5.0}
],
"bx": [
{"t":5.75,"o":22.6},{"t":6.25,"o":23.4},{"t":6.75,"o":21.4},{"t":7.25,"o":22.4},{"t":7.75,"o":21.0},{"t":8.25,"o":22.2},{"t":8.75,"o":20.6},{"t":9.25,"o":21.8},{"t":9.75,"o":20.3},{"t":10.25,"o":21.5},{"t":10.75,"o":20.0},{"t":11.25,"o":21.2},{"t":11.75,"o":19.8},{"t":12.25,"o":21.0},{"t":12.75,"o":19.6},{"t":13.25,"o":20.8},{"t":13.75,"o":19.5},{"t":14.75,"o":20.6},{"t":15.25,"o":19.3},{"t":15.75,"o":20.4},{"t":16.25,"o":19.3},{"t":17.25,"o":20.2},{"t":17.75,"o":18.9},{"t":18.25,"o":20.1},{"t":18.75,"o":18.8},{"t":19.25,"o":19.9},{"t":19.75,"o":18.7},{"t":20.25,"o":19.8},{"t":20.75,"o":18.4},{"t":21.25,"o":19.6},{"t":22.15,"o":20.5},{"t":22.45,"o":20.0},{"t":22.8,"o":19.8},{"t":23.1,"o":19.2},{"t":23.8,"o":20.6},{"t":24.35,"o":19.0},{"t":24.75,"o":18.5},{"t":25.25,"o":17.8},{"t":25.75,"o":17.6},{"t":26.4,"o":18.0},{"t":26.8,"o":19.0},{"t":30.65,"o":21.5},{"t":31.0,"o":19.0},{"t":31.4,"o":18.6},{"t":31.8,"o":18.8},{"t":32.25,"o":19.5},{"t":32.7,"o":19.8},{"t":35.25,"o":21.0},{"t":35.6,"o":18.5},{"t":36.05,"o":18.2},{"t":36.55,"o":17.4},{"t":37.0,"o":17.0},{"t":37.4,"o":17.6},{"t":37.8,"o":16.6},{"t":38.25,"o":16.4},{"t":38.75,"o":17.8},{"t":39.15,"o":18.0},{"t":39.55,"o":16.3},{"t":40.05,"o":16.5},{"t":40.65,"o":16.0},{"t":41.25,"o":16.7},{"t":41.75,"o":16.3},{"t":42.2,"o":16.8},{"t":42.7,"o":17.0},{"t":43.2,"o":17.5},{"t":43.6,"o":16.2},{"t":44.05,"o":17.0},{"t":44.45,"o":24.0},{"t":44.8,"o":30.8},{"t":45.1,"o":30.0},{"t":45.45,"o":27.0},{"t":45.8,"o":20.5},{"t":46.15,"o":18.0},{"t":46.5,"o":17.3},{"t":46.85,"o":16.5},{"t":47.25,"o":16.8},{"t":47.75,"o":15.8},{"t":48.15,"o":17.8},{"t":48.45,"o":22.0},{"t":48.8,"o":22.5},{"t":49.15,"o":20.0},{"t":49.55,"o":16.8},{"t":50.05,"o":16.2},{"t":50.65,"o":15.6},{"t":51.2,"o":15.9},{"t":51.55,"o":16.5},{"t":51.9,"o":17.0},{"t":52.3,"o":16.3},{"t":52.75,"o":15.9},{"t":53.2,"o":16.0},{"t":53.6,"o":15.6},{"t":54.0,"o":16.5},{"t":54.4,"o":17.2},{"t":54.8,"o":21.0},{"t":55.15,"o":21.5},{"t":55.5,"o":18.5},{"t":55.85,"o":21.5},{"t":56.35,"o":26.0},{"t":56.65,"o":24.5},{"t":57.0,"o":21.0},{"t":57.4,"o":18.5},{"t":57.75,"o":20.5},{"t":58.05,"o":19.5},{"t":58.4,"o":17.5},{"t":58.8,"o":17.0},{"t":59.15,"o":17.5},{"t":59.55,"o":17.8},{"t":59.95,"o":24.0},{"t":60.25,"o":23.5},{"t":60.55,"o":18.8},{"t":60.85,"o":17.0},{"t":61.15,"o":18.5},{"t":61.45,"o":18.0},{"t":61.8,"o":18.0},{"t":62.2,"o":17.3},{"t":62.6,"o":17.8},{"t":63.0,"o":17.5},{"t":63.4,"o":17.0},{"t":63.8,"o":17.0},{"t":64.25,"o":16.5},{"t":64.75,"o":17.0},{"t":65.25,"o":16.8},{"t":65.75,"o":16.5},{"t":66.25,"o":16.8},{"t":66.75,"o":16.2},{"t":67.25,"o":16.9},{"t":67.75,"o":16.4},{"t":68.25,"o":16.3},{"t":68.75,"o":16.6},{"t":69.25,"o":16.8},{"t":69.75,"o":16.0},{"t":70.25,"o":16.7},{"t":70.75,"o":16.2},{"t":71.25,"o":16.9},{"t":71.75,"o":16.3},{"t":72.25,"o":16.4},{"t":72.75,"o":16.6},{"t":73.25,"o":16.9},{"t":73.75,"o":16.2},{"t":74.25,"o":16.7},{"t":74.75,"o":16.4},{"t":75.25,"o":17.0},{"t":75.75,"o":16.3},{"t":76.25,"o":16.8},{"t":76.75,"o":16.5},{"t":77.25,"o":17.2},{"t":77.75,"o":16.4},{"t":78.25,"o":16.6},{"t":78.75,"o":16.5},{"t":79.25,"o":16.9},{"t":79.75,"o":16.2},{"t":80.25,"o":16.6},{"t":80.75,"o":16.4},{"t":81.25,"o":16.8},{"t":81.75,"o":16.2},{"t":82.25,"o":16.5},{"t":82.75,"o":16.3},{"t":83.25,"o":16.6},{"t":83.75,"o":16.2},{"t":84.25,"o":16.5},{"t":84.75,"o":16.3},{"t":85.25,"o":16.4},{"t":85.75,"o":16.1},{"t":86.25,"o":16.4},{"t":86.75,"o":16.2},{"t":87.25,"o":16.5},{"t":87.75,"o":16.0},{"t":88.25,"o":16.4},{"t":88.75,"o":16.1},{"t":89.25,"o":16.2},{"t":89.75,"o":15.9},{"t":90.25,"o":16.2},{"t":90.75,"o":15.8},{"t":91.25,"o":16.2},{"t":91.75,"o":15.7},{"t":92.25,"o":16.0},{"t":92.75,"o":15.8},{"t":93.25,"o":15.9},{"t":93.75,"o":15.6},{"t":94.25,"o":15.8},{"t":94.75,"o":15.5},{"t":95.25,"o":15.8},{"t":95.75,"o":15.5},{"t":96.25,"o":15.8},{"t":96.75,"o":15.6},{"t":97.25,"o":15.9},{"t":97.75,"o":15.6},{"t":98.25,"o":15.9},{"t":98.75,"o":15.6},{"t":99.25,"o":15.9},{"t":99.75,"o":15.6},{"t":100.25,"o":15.9},{"t":100.75,"o":15.7},{"t":101.25,"o":16.0},{"t":101.75,"o":15.7},{"t":102.25,"o":16.0},{"t":102.75,"o":15.7},{"t":103.25,"o":16.0},{"t":103.75,"o":15.7},{"t":104.25,"o":16.0},{"t":104.75,"o":15.7},{"t":105.25,"o":16.0},{"t":105.75,"o":15.7},{"t":106.25,"o":16.0},{"t":106.75,"o":15.7},{"t":107.25,"o":16.0},{"t":107.75,"o":15.8},{"t":108.25,"o":16.1},{"t":108.75,"o":15.8},{"t":109.25,"o":16.1},{"t":109.75,"o":15.8},{"t":110.25,"o":16.1},{"t":110.75,"o":15.8},{"t":111.25,"o":16.1},{"t":111.75,"o":15.8},{"t":112.25,"o":16.1},{"t":112.75,"o":15.8},{"t":113.25,"o":16.2},{"t":113.75,"o":15.9},{"t":114.25,"o":16.2},{"t":114.75,"o":15.9},{"t":115.25,"o":16.2},{"t":115.75,"o":15.9},{"t":116.25,"o":16.2},{"t":116.75,"o":15.9},{"t":117.25,"o":16.2},{"t":117.75,"o":15.9},{"t":118.25,"o":16.2},{"t":118.75,"o":15.9},{"t":119.25,"o":16.2},{"t":119.75,"o":15.9}
],
"braggA": [
{"t":10.46},{"t":12.83},{"t":14.41},{"t":16.5},{"t":16.89},{"t":17.22},{"t":19.03},{"t":19.71},{"t":20.44},{"t":21.28},{"t":22.13},{"t":22.7},{"t":23.54},{"t":24.39},{"t":24.95},{"t":25.8},{"t":26.36},{"t":26.92},{"t":27.49},{"t":28.05},{"t":28.62},{"t":29.06},{"t":29.46},{"t":30.02},{"t":30.87},{"t":31.43},{"t":32.0},{"t":32.56},{"t":33.01},{"t":33.3},{"t":33.45},{"t":33.6},{"t":33.75},{"t":33.9},{"t":34.05},{"t":34.2},{"t":34.35},{"t":34.5},{"t":34.65},{"t":34.8},{"t":34.95},{"t":35.1},{"t":35.25},{"t":35.4},{"t":35.55},{"t":35.7},{"t":35.85},{"t":36.0},{"t":36.2},{"t":36.4},{"t":36.9},{"t":37.5},{"t":38.1},{"t":38.6},{"t":39.2},{"t":39.9},{"t":40.5},{"t":41.0},{"t":41.6},{"t":42.5},{"t":43.1},{"t":43.5},{"t":43.9},{"t":44.1},{"t":44.3},{"t":44.5},{"t":44.7},{"t":44.9},{"t":45.1}
],
"bandA": [
{"t":45.5,"e":50.7},{"t":50.9,"e":54.1},{"t":54.3,"e":59.5},{"t":59.7,"e":64.3},{"t":64.6,"e":97.2},{"t":97.4,"e":107.7},{"t":107.9,"e":120}
],
"braggB": [
{"t":12.83},{"t":13.68},{"t":14.41},{"t":15.2},{"t":16.78},{"t":17.22},{"t":19.31},{"t":20.05},{"t":21.28},{"t":21.96},{"t":22.87},{"t":23.82},{"t":24.39},{"t":25.12},{"t":25.8},{"t":26.81},{"t":27.1},{"t":27.4},{"t":27.7},{"t":28.0},{"t":28.3},{"t":28.6},{"t":28.9},{"t":29.2},{"t":29.5},{"t":29.8},{"t":30.1},{"t":30.4},{"t":30.7},{"t":31.0},{"t":31.3},{"t":31.6},{"t":31.9},{"t":32.2},{"t":32.5},{"t":32.84},{"t":36.3},{"t":36.6},{"t":37.0},{"t":37.3},{"t":37.7},{"t":38.1},{"t":38.4},{"t":39.9},{"t":40.2},{"t":40.6},{"t":41.0},{"t":41.3},{"t":41.8},{"t":42.2},{"t":42.6},{"t":43.0},{"t":43.3},{"t":43.7},{"t":44.0},{"t":44.3},{"t":44.6}
],
"bandB": [
{"t":33.1,"e":36.0},{"t":38.8,"e":39.6},{"t":44.9,"e":50.0},{"t":50.3,"e":54.4},{"t":54.7,"e":68.0},{"t":68.2,"e":73.7},{"t":73.9,"e":76.9},{"t":77.1,"e":91.3},{"t":91.5,"e":95.0},{"t":95.2,"e":120}
]
},
"spacing": -5,
"vconcat": [
{
"width": 681, "height": 518,
"layer": [
{"data": {"name": "a"}, "mark": {"type": "point", "shape": "M-1,-1L1,1M-1,1L1,-1", "filled": false, "size": 200, "stroke": "#222222", "strokeWidth": 1.3, "opacity": 1},
 "encoding": {"x": {"field": "t", "type": "quantitative", "scale": {"domain": [5, 120], "nice": false, "zero": false}, "axis": {"title": "2 Theta (Degree)"}},
              "y": {"field": "o", "type": "quantitative", "scale": {"domain": [0, 100], "nice": false, "zero": false}, "axis": {"title": "Intensity (a.u.)"}}}},
{"data": {"name": "ax"}, "mark": {"type": "point", "shape": "M-1,-1L1,1M-1,1L1,-1", "filled": false, "size": 250, "stroke": "#0a0a0a", "strokeWidth": 2.3, "opacity": 1},
 "encoding": {"x": {"field": "t", "type": "quantitative"}, "y": {"field": "o", "type": "quantitative"}}},
{"data": {"name": "a"}, "mark": {"type": "line", "color": "#ee1c25", "strokeWidth": 3},
 "encoding": {"x": {"field": "t", "type": "quantitative"}, "y": {"field": "c", "type": "quantitative"}}},
{"data": {"name": "a"}, "mark": {"type": "line", "color": "#2b6cd4", "strokeWidth": 3},
 "encoding": {"x": {"field": "t", "type": "quantitative"}, "y": {"field": "d", "type": "quantitative"}}},
{"data": {"name": "braggA"}, "mark": {"type": "rule", "color": "#e8157f", "strokeWidth": 1.5},
 "encoding": {"x": {"field": "t", "type": "quantitative"}, "y": {"datum": 21.8}, "y2": {"datum": 24.1}}},
{"data": {"name": "bandA"}, "mark": {"type": "rect", "color": "#f0148c"},
 "encoding": {"x": {"field": "t", "type": "quantitative"}, "x2": {"field": "e"}, "y": {"datum": 21.8}, "y2": {"datum": 24.1}}},
{"data": {"values": [{}]}, "mark": {"type": "text", "text": "a", "align": "left", "baseline": "alphabetic", "fontSize": 38, "fontWeight": "normal", "color": "black"},
 "encoding": {"x": {"datum": -6.33}, "y": {"datum": 96.1}}},
{"data": {"values": [{}]}, "mark": {"type": "point", "shape": "M-1,-1L1,1M-1,1L1,-1", "filled": false, "size": 200, "stroke": "#333333", "strokeWidth": 1.1, "opacity": 1},
 "encoding": {"x": {"datum": 85.8}, "y": {"datum": 95.75}}},
{"data": {"values": [{}]}, "mark": {"type": "rule", "color": "#ee1c25", "strokeWidth": 3},
 "encoding": {"x": {"datum": 79.9}, "x2": {"datum": 91.7}, "y": {"datum": 88.4}}},
{"data": {"values": [{}]}, "mark": {"type": "rule", "color": "#2b6cd4", "strokeWidth": 3},
 "encoding": {"x": {"datum": 79.9}, "x2": {"datum": 91.7}, "y": {"datum": 81.1}}},
{"data": {"values": [{}]}, "mark": {"type": "rule", "color": "#c0407f", "strokeWidth": 1.5},
 "encoding": {"x": {"datum": 85.8}, "y": {"datum": 72.4}, "y2": {"datum": 74.7}}},
{"data": {"values": [{}]}, "mark": {"type": "text", "text": "Observed", "align": "left", "baseline": "middle", "fontSize": 30, "fontWeight": "bold", "color": "black"},
 "encoding": {"x": {"datum": 93.1}, "y": {"datum": 95.75}}},
{"data": {"values": [{}]}, "mark": {"type": "text", "text": "Calculated", "align": "left", "baseline": "middle", "fontSize": 30, "fontWeight": "bold", "color": "black"},
 "encoding": {"x": {"datum": 93.1}, "y": {"datum": 88.4}}},
{"data": {"values": [{}]}, "mark": {"type": "text", "text": "Difference", "align": "left", "baseline": "middle", "fontSize": 30, "fontWeight": "bold", "color": "black"},
 "encoding": {"x": {"datum": 93.1}, "y": {"datum": 81.1}}},
{"data": {"values": [{}]}, "mark": {"type": "text", "text": "Bragg", "align": "left", "baseline": "middle", "fontSize": 30, "fontWeight": "bold", "color": "black"},
 "encoding": {"x": {"datum": 93.1}, "y": {"datum": 73.55}}},
{"data": {"values": [{}]}, "mark": {"type": "text", "text": "β", "align": "left", "baseline": "alphabetic", "fontSize": 32, "fontStyle": "italic", "fontWeight": "normal", "color": "black"},
 "encoding": {"x": {"datum": 38.81}, "y": {"datum": 92.9}}},
{"data": {"values": [{}]}, "mark": {"type": "text", "text": "-SrGa", "align": "left", "baseline": "alphabetic", "fontSize": 32, "fontWeight": "bold", "color": "black"},
 "encoding": {"x": {"datum": 41.94}, "y": {"datum": 92.9}}},
{"data": {"values": [{}]}, "mark": {"type": "text", "text": "2", "align": "left", "baseline": "alphabetic", "fontSize": 23, "fontWeight": "bold", "color": "black", "dy": 7},
 "encoding": {"x": {"datum": 56.73}, "y": {"datum": 92.9}}},
{"data": {"values": [{}]}, "mark": {"type": "text", "text": "O", "align": "left", "baseline": "alphabetic", "fontSize": 32, "fontWeight": "bold", "color": "black"},
 "encoding": {"x": {"datum": 58.93}, "y": {"datum": 92.9}}},
{"data": {"values": [{}]}, "mark": {"type": "text", "text": "4", "align": "left", "baseline": "alphabetic", "fontSize": 23, "fontWeight": "bold", "color": "black", "dy": 7},
 "encoding": {"x": {"datum": 63.16}, "y": {"datum": 92.9}}},
{"data": {"values": [{}]}, "mark": {"type": "text", "text": ":Eu", "align": "left", "baseline": "alphabetic", "fontSize": 32, "fontWeight": "bold", "color": "black"},
 "encoding": {"x": {"datum": 65.36}, "y": {"datum": 92.9}}},
{"data": {"values": [{}]}, "mark": {"type": "text", "text": "2+", "align": "left", "baseline": "alphabetic", "fontSize": 21, "fontWeight": "bold", "color": "black", "dy": -12},
 "encoding": {"x": {"datum": 74.15}, "y": {"datum": 92.9}}}
]
},
{
"width": 681, "height": 521,
"layer": [
{"data": {"name": "b"}, "mark": {"type": "point", "shape": "M-1,-1L1,1M-1,1L1,-1", "filled": false, "size": 200, "stroke": "#222222", "strokeWidth": 1.3, "opacity": 1},
 "encoding": {"x": {"field": "t", "type": "quantitative", "scale": {"domain": [5, 120], "nice": false, "zero": false}, "axis": {"title": "2 Theta (Degree)"}},
              "y": {"field": "o", "type": "quantitative", "scale": {"domain": [0, 100], "nice": false, "zero": false}, "axis": {"title": "Intensity (a.u.)"}}}},
{"data": {"name": "bx"}, "mark": {"type": "point", "shape": "M-1,-1L1,1M-1,1L1,-1", "filled": false, "size": 250, "stroke": "#0a0a0a", "strokeWidth": 2.3, "opacity": 1},
 "encoding": {"x": {"field": "t", "type": "quantitative"}, "y": {"field": "o", "type": "quantitative"}}},
{"data": {"name": "b"}, "mark": {"type": "line", "color": "#ee1c25", "strokeWidth": 3},
 "encoding": {"x": {"field": "t", "type": "quantitative"}, "y": {"field": "c", "type": "quantitative"}}},
{"data": {"name": "b"}, "mark": {"type": "line", "color": "#2b6cd4", "strokeWidth": 3},
 "encoding": {"x": {"field": "t", "type": "quantitative"}, "y": {"field": "d", "type": "quantitative"}}},
{"data": {"name": "braggB"}, "mark": {"type": "rule", "color": "#e8157f", "strokeWidth": 1.5},
 "encoding": {"x": {"field": "t", "type": "quantitative"}, "y": {"datum": 9.4}, "y2": {"datum": 11.5}}},
{"data": {"name": "bandB"}, "mark": {"type": "rect", "color": "#f0148c"},
 "encoding": {"x": {"field": "t", "type": "quantitative"}, "x2": {"field": "e"}, "y": {"datum": 9.4}, "y2": {"datum": 11.5}}},
{"data": {"values": [{}]}, "mark": {"type": "text", "text": "b", "align": "left", "baseline": "alphabetic", "fontSize": 38, "fontWeight": "normal", "color": "black"},
 "encoding": {"x": {"datum": -1.59}, "y": {"datum": 102.1}}},
{"data": {"values": [{}]}, "mark": {"type": "point", "shape": "M-1,-1L1,1M-1,1L1,-1", "filled": false, "size": 200, "stroke": "#333333", "strokeWidth": 1.1, "opacity": 1},
 "encoding": {"x": {"datum": 85.8}, "y": {"datum": 95.8}}},
{"data": {"values": [{}]}, "mark": {"type": "rule", "color": "#ee1c25", "strokeWidth": 3},
 "encoding": {"x": {"datum": 79.9}, "x2": {"datum": 91.7}, "y": {"datum": 88.3}}},
{"data": {"values": [{}]}, "mark": {"type": "rule", "color": "#2b6cd4", "strokeWidth": 3},
 "encoding": {"x": {"datum": 79.9}, "x2": {"datum": 91.7}, "y": {"datum": 80.6}}},
{"data": {"values": [{}]}, "mark": {"type": "rule", "color": "#c0407f", "strokeWidth": 1.5},
 "encoding": {"x": {"datum": 85.8}, "y": {"datum": 71.75}, "y2": {"datum": 74.05}}},
{"data": {"values": [{}]}, "mark": {"type": "text", "text": "Observed", "align": "left", "baseline": "middle", "fontSize": 30, "fontWeight": "bold", "color": "black"},
 "encoding": {"x": {"datum": 93.1}, "y": {"datum": 95.8}}},
{"data": {"values": [{}]}, "mark": {"type": "text", "text": "Calculated", "align": "left", "baseline": "middle", "fontSize": 30, "fontWeight": "bold", "color": "black"},
 "encoding": {"x": {"datum": 93.1}, "y": {"datum": 88.3}}},
{"data": {"values": [{}]}, "mark": {"type": "text", "text": "Difference", "align": "left", "baseline": "middle", "fontSize": 30, "fontWeight": "bold", "color": "black"},
 "encoding": {"x": {"datum": 93.1}, "y": {"datum": 80.6}}},
{"data": {"values": [{}]}, "mark": {"type": "text", "text": "Bragg", "align": "left", "baseline": "middle", "fontSize": 30, "fontWeight": "bold", "color": "black"},
 "encoding": {"x": {"datum": 93.1}, "y": {"datum": 72.9}}},
{"data": {"values": [{}]}, "mark": {"type": "text", "text": "γ", "align": "left", "baseline": "alphabetic", "fontSize": 32, "fontStyle": "italic", "fontWeight": "normal", "color": "black"},
 "encoding": {"x": {"datum": 38.81}, "y": {"datum": 92.9}}},
{"data": {"values": [{}]}, "mark": {"type": "text", "text": "-SrGa", "align": "left", "baseline": "alphabetic", "fontSize": 32, "fontWeight": "bold", "color": "black"},
 "encoding": {"x": {"datum": 41.7}, "y": {"datum": 92.9}}},
{"data": {"values": [{}]}, "mark": {"type": "text", "text": "2", "align": "left", "baseline": "alphabetic", "fontSize": 23, "fontWeight": "bold", "color": "black", "dy": 7},
 "encoding": {"x": {"datum": 56.49}, "y": {"datum": 92.9}}},
{"data": {"values": [{}]}, "mark": {"type": "text", "text": "O", "align": "left", "baseline": "alphabetic", "fontSize": 32, "fontWeight": "bold", "color": "black"},
 "encoding": {"x": {"datum": 58.69}, "y": {"datum": 92.9}}},
{"data": {"values": [{}]}, "mark": {"type": "text", "text": "4", "align": "left", "baseline": "alphabetic", "fontSize": 23, "fontWeight": "bold", "color": "black", "dy": 7},
 "encoding": {"x": {"datum": 62.92}, "y": {"datum": 92.9}}},
{"data": {"values": [{}]}, "mark": {"type": "text", "text": ":Eu", "align": "left", "baseline": "alphabetic", "fontSize": 32, "fontWeight": "bold", "color": "black"},
 "encoding": {"x": {"datum": 65.12}, "y": {"datum": 92.9}}},
{"data": {"values": [{}]}, "mark": {"type": "text", "text": "2+", "align": "left", "baseline": "alphabetic", "fontSize": 21, "fontWeight": "bold", "color": "black", "dy": -12},
 "encoding": {"x": {"datum": 73.91}, "y": {"datum": 92.9}}}
]
}
]
}
